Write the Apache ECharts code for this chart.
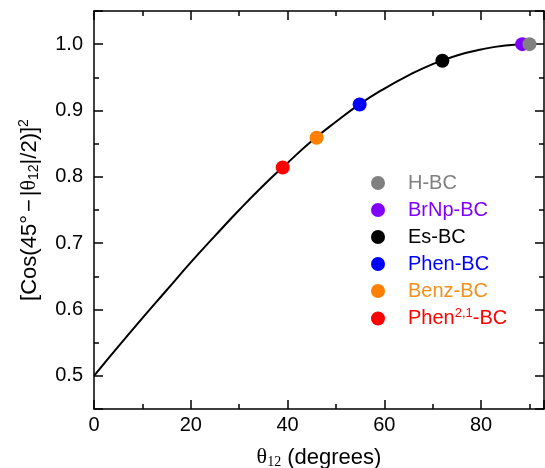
<!DOCTYPE html>
<html>
<head>
<meta charset="utf-8">
<script src="https://cdn.jsdelivr.net/npm/echarts@6/dist/echarts.min.js"></script>
<style>
  html, body { margin: 0; padding: 0; background: #fff; }
  #chart { width: 545px; height: 468px; }
</style>
</head>
<body>
<div id="chart"></div>
<script>
// curve
var curveTheta = [0, 5, 10, 15, 20, 25, 30, 35, 40, 45, 50, 55, 60, 65, 70, 75, 80, 85, 90]
var curveValue = [0.500, 0.544, 0.587, 0.629, 0.671, 0.711, 0.750, 0.787, 0.821, 0.854,
  0.883, 0.910, 0.933, 0.953, 0.970, 0.983, 0.992, 0.998, 1.000]

// molecules (draw order: purple under grey)
var pointNames = ['Phen2,1-BC', 'Benz-BC', 'Phen-BC', 'Es-BC', 'BrNp-BC', 'H-BC']
var pointTheta = [39.0, 46.0, 54.9, 72.0, 88.5, 90.0]
var pointValue = [0.814, 0.859, 0.909, 0.975, 1.000, 1.000]
var pointColors = ['#ff0000', '#ff8000', '#0000ff', '#000000', '#8000ff', '#808080']
var labelColors = ['#ff0000', '#f0901e', '#0000ff', '#000000', '#8000ff', '#808080']

var legendOrder = ['H-BC', 'BrNp-BC', 'Es-BC', 'Phen-BC', 'Benz-BC', 'Phen2,1-BC']

var xTicks = [0, 20, 40, 60, 80]
var yTicks = [0.5, 0.6, 0.7, 0.8, 0.9, 1.0]

var font = 'Liberation Sans, Arial, sans-serif'
var serif = 'Liberation Serif, serif'
var chart = echarts.init(document.getElementById('chart'))

var curve = curveTheta.map(function (t, i) { return [t, curveValue[i]] })

var series = [{
  name: 'curve',
  type: 'line',
  data: curve,
  smooth: true,
  showSymbol: false,
  lineStyle: { color: '#000', width: 2 },
  z: 2
}]
pointNames.forEach(function (n, i) {
  series.push({
    name: n,
    type: 'scatter',
    data: [[pointTheta[i], pointValue[i]]],
    symbolSize: 14,
    itemStyle: { color: pointColors[i], opacity: 1 },
    z: 3 + i
  })
})

var xBase = {
  type: 'value', min: 0, max: 93, interval: 20,
  axisLine: { show: true, onZero: false, lineStyle: { color: '#000', width: 1.5 } },
  axisTick: { show: true, inside: true, length: 9, lineStyle: { color: '#000', width: 1.5 } },
  minorTick: { show: true, splitNumber: 2, length: 5, lineStyle: { color: '#000', width: 1.5 } },
  splitLine: { show: false }
}
var yBase = {
  type: 'value', min: 0.45, max: 1.05, splitNumber: 6,
  axisLine: { show: true, onZero: false, lineStyle: { color: '#000', width: 1.5 } },
  axisTick: { show: true, inside: true, length: 9, lineStyle: { color: '#000', width: 1.5 } },
  minorTick: { show: true, splitNumber: 2, length: 5, lineStyle: { color: '#000', width: 1.5 } },
  splitLine: { show: false }
}

var option = {
  animation: false,
  grid: { left: 94, right: 1, top: 11, bottom: 59, outerBoundsMode: 'none' },
  legend: {
    orient: 'vertical',
    left: 366,
    top: 167,
    icon: 'circle',
    itemWidth: 50,
    itemHeight: 14,
    itemGap: 5,
    data: legendOrder.map(function (n) {
      return { name: n, textStyle: { color: labelColors[pointNames.indexOf(n)] } }
    }),
    formatter: function (n) {
      return n === 'Phen2,1-BC' ? '{r|Phen}{rs|2,1}{r|-BC}' : n
    },
    textStyle: {
      fontFamily: font, fontSize: 20, lineHeight: 22,
      rich: {
        r: { color: '#ff0000', fontFamily: font, fontSize: 20, lineHeight: 22 },
        rs: { color: '#ff0000', fontFamily: font, fontSize: 13, lineHeight: 22, padding: [0, 0, 10, 0] }
      }
    }
  },
  xAxis: [
    Object.assign({}, xBase, {
      position: 'bottom',
      name: '{t|θ}{s|12} (degrees)',
      nameLocation: 'middle',
      nameGap: 37,
      nameTextStyle: {
        color: '#000', fontFamily: font, fontSize: 22,
        rich: {
          t: { fontFamily: serif, fontSize: 22, color: '#000' },
          s: { fontFamily: serif, fontSize: 14, color: '#000', padding: [9, 0, 0, 0] }
        }
      },
      axisLabel: {
        color: '#000', fontFamily: font, fontSize: 20, margin: 6,
        formatter: function (v) { return xTicks.indexOf(v) >= 0 ? String(v) : '' }
      }
    }),
    Object.assign({}, xBase, { position: 'top', axisLabel: { show: false } })
  ],
  yAxis: [
    Object.assign({}, yBase, {
      position: 'left',
      name: '[Cos(45°{g|−}|{t|θ}{s|12}|/2)]{p|2}',
      nameLocation: 'middle',
      nameGap: 52,
      nameTextStyle: {
        color: '#000', fontFamily: font, fontSize: 22,
        rich: {
          g: { fontFamily: font, fontSize: 22, color: '#000', padding: [0, 3, 0, 3] },
          t: { fontFamily: serif, fontSize: 22, color: '#000' },
          s: { fontFamily: font, fontSize: 14, color: '#000', padding: [9, 0, 0, 0] },
          p: { fontFamily: font, fontSize: 14, color: '#000', padding: [0, 0, 11, 0] }
        }
      },
      axisLabel: {
        color: '#000', fontFamily: font, fontSize: 20, margin: 11,
        formatter: function (v) {
          for (var i = 0; i < yTicks.length; i++) {
            if (Math.abs(v - yTicks[i]) < 1e-6) return yTicks[i].toFixed(1)
          }
          return ''
        }
      }
    }),
    Object.assign({}, yBase, { position: 'right', axisLabel: { show: false } })
  ],
  series: series
}
option && chart.setOption(option)
</script>
</body>
</html>
